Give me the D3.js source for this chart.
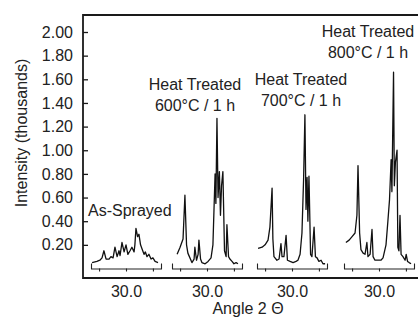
<!DOCTYPE html>
<html>
<head>
<meta charset="utf-8">
<script src="https://cdn.jsdelivr.net/npm/d3@7"></script>
<style>
  body { margin: 0; background: #fff; }
  text { font-family: "Liberation Sans", Arial, sans-serif; fill: #222; }
</style>
</head>
<body>
<svg id="chart" width="418" height="320"></svg>
<script>
// intensity axis (thousands)
const yTicks = [0.2, 0.4, 0.6, 0.8, 1.0, 1.2, 1.4, 1.6, 1.8, 2.0];
// each panel spans 17..43 deg 2-theta, only 30.0 labelled
const xTicks = [20, 30, 40];

// [2theta, intensity]
const asSprayed = [[17.4,0.05],[19.2,0.06],[20.3,0.07],[21.1,0.09],[21.8,0.15],[22.6,0.08],[23.7,0.08],
  [24.4,0.1],[25.2,0.09],[25.9,0.18],[26.7,0.1],[27.4,0.15],[27.8,0.11],[28.5,0.22],[29.3,0.14],[30.0,0.2],
  [30.7,0.12],[31.5,0.15],[32.2,0.18],[33.0,0.14],[33.3,0.2],[33.7,0.34],[34.3,0.27],[34.8,0.29],[35.4,0.2],
  [35.9,0.17],[36.7,0.12],[37.2,0.14],[37.8,0.1],[38.5,0.12],[39.3,0.08],[40.0,0.09],[40.8,0.06],[41.9,0.05]];
const ht600 = [[18.9,0.12],[20.0,0.18],[21.1,0.25],[21.8,0.62],[22.4,0.2],[22.9,0.13],[24.4,0.05],[25.2,0.08],
  [25.5,0.18],[26.1,0.07],[26.7,0.12],[27.0,0.24],[27.6,0.08],[28.1,0.05],[29.3,0.04],[30.4,0.06],[31.5,0.09],
  [32.2,0.2],[33.0,0.8],[33.3,0.55],[33.7,1.27],[34.1,0.6],[34.6,0.82],[35.0,0.45],[35.4,0.7],[35.9,0.82],
  [36.5,0.15],[37.1,0.1],[37.4,0.37],[38.0,0.1],[38.5,0.08],[39.3,0.06],[40.0,0.04],[40.8,0.05],[41.5,0.04]];
const ht700 = [[17.4,0.17],[18.9,0.18],[20.0,0.2],[21.1,0.24],[21.8,0.35],[22.6,0.68],[22.9,0.25],[23.3,0.1],
  [24.4,0.07],[25.2,0.08],[25.9,0.21],[26.3,0.1],[27.0,0.1],[27.8,0.28],[28.3,0.07],[29.3,0.06],[30.4,0.05],
  [31.5,0.06],[32.2,0.07],[33.0,0.12],[33.7,0.3],[34.3,0.75],[34.8,1.3],[35.2,0.5],[35.6,0.77],[35.9,0.4],
  [36.3,0.78],[36.9,0.12],[37.4,0.1],[38.2,0.35],[38.7,0.1],[39.3,0.09],[40.0,0.06],[40.8,0.07],[41.5,0.04],[42.3,0.04]];
const ht800 = [[17.7,0.22],[18.9,0.24],[20.0,0.27],[21.1,0.3],[21.8,0.45],[22.2,0.87],[22.8,0.3],[23.3,0.16],
  [24.1,0.13],[24.8,0.12],[25.5,0.22],[25.9,0.1],[26.7,0.12],[27.4,0.33],[27.8,0.1],[28.5,0.07],[29.6,0.07],
  [30.7,0.07],[31.5,0.09],[32.6,0.2],[33.3,0.4],[33.9,0.58],[34.5,0.92],[34.8,0.65],[35.4,1.66],[35.7,0.7],
  [36.1,0.9],[36.7,1.0],[37.0,0.18],[37.4,0.15],[37.8,0.45],[38.2,0.12],[38.9,0.1],[39.7,0.07],[40.1,0.12],
  [40.6,0.06],[41.2,0.05],[41.9,0.04]];

const series = [asSprayed, ht600, ht700, ht800];
const panelLeft = [91, 172, 257, 344];   // left end of each small 2theta axis

const labels = [
  { lines: ['As-Sprayed'], x: 88, y: 216, anchor: 'start' },
  { lines: ['Heat Treated', '600°C / 1 h'], x: 195, y: 90, anchor: 'middle' },
  { lines: ['Heat Treated', '700°C / 1 h'], x: 301, y: 85, anchor: 'middle' },
  { lines: ['Heat Treated', '800°C / 1 h'], x: 368, y: 37, anchor: 'middle' }
];

const svg = d3.select('#chart');
const frameLeft = 83, frameTop = 15, frameBottom = 278;

const y = d3.scaleLinear().domain([0, 2]).range([268.5, 32]);

// frame (open on the right, runs off the picture)
svg.append('path')
  .attr('d', `M420,${frameTop}H${frameLeft}V${frameBottom}H420`)
  .attr('fill', 'none')
  .attr('stroke', '#1a1a1a')
  .attr('stroke-width', 1.8);

const yAxis = svg.append('g')
  .attr('transform', `translate(${frameLeft},0)`)
  .call(d3.axisLeft(y).tickValues(yTicks).tickSize(-5).tickPadding(10).tickFormat(d3.format('.2f')));
yAxis.select('.domain').remove();
yAxis.selectAll('line').attr('stroke', '#1a1a1a').attr('stroke-width', 1.3);
yAxis.selectAll('text').style('font-size', '16px').attr('fill', '#222');

svg.append('text')
  .attr('transform', 'translate(27,133) rotate(-90)')
  .attr('text-anchor', 'middle')
  .style('font-size', '16px')
  .text('Intensity (thousands)');

const line = d3.line();

series.forEach((data, i) => {
  const x = d3.scaleLinear().domain([17, 43]).range([panelLeft[i], panelLeft[i] + 70]);

  const ax = svg.append('g')
    .attr('transform', `translate(0,${y(0)})`)
    .call(d3.axisBottom(x).tickValues(xTicks).tickSizeInner(3).tickSizeOuter(-5).tickPadding(14)
      .tickFormat(d => d === 30 ? '30.0' : ''));
  ax.selectAll('path, line').attr('stroke', '#222').attr('stroke-width', 1.1);
  ax.selectAll('text').style('font-size', '16px').attr('fill', '#222');

  svg.append('path')
    .datum(data)
    .attr('d', line.x(d => x(d[0])).y(d => y(d[1])))
    .attr('fill', 'none')
    .attr('stroke', '#111')
    .attr('stroke-width', 1.3)
    .attr('stroke-linejoin', 'round');
});

labels.forEach(l => {
  const t = svg.append('text')
    .attr('x', l.x).attr('y', l.y)
    .attr('text-anchor', l.anchor)
    .style('font-size', '16px');
  l.lines.forEach((s, j) => {
    t.append('tspan').attr('x', l.x).attr('dy', j ? 21 : 0).text(s);
  });
});

svg.append('text')
  .attr('x', 248).attr('y', 314)
  .attr('text-anchor', 'middle')
  .style('font-size', '16px')
  .text('Angle 2 Θ');
</script>
</body>
</html>
